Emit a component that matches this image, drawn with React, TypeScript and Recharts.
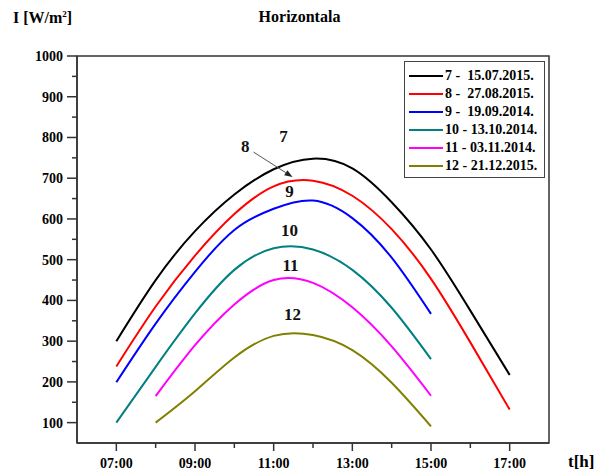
import {
  LineChart,
  Line,
  XAxis,
  YAxis,
  Legend,
  ReferenceArea,
  ReferenceDot,
  ReferenceLine,
} from 'recharts'

const FONT = '"Liberation Serif", "Times New Roman", serif'

// hours of the day
const hours = [7, 8, 9, 10, 11, 12, 13, 14, 15, 16, 17]

// irradiance on horizontal surface, W/m2 (null = not measured)
const jul15 = [300, 450, 570, 660, 722, 748, 724, 641, 525, 375, 217]
const aug27 = [238, 385, 510, 612, 680, 694, 657, 575, 453, 297, 132]
const sep19 = [199, 343, 470, 573, 625, 645, 602, 505, 367, null, null]
const oct13 = [100, 237, 368, 475, 528, 525, 475, 382, 256, null, null]
const nov03 = [null, 165, 290, 390, 450, 443, 383, 287, 166, null, null]
const dec21 = [null, 100, 177, 260, 313, 315, 278, 198, 91, null, null]

const seriesKeys = ['d7', 'd8', 'd9', 'd10', 'd11', 'd12']
const seriesNames = [
  '7 -  15.07.2015.',
  '8 -  27.08.2015.',
  '9 -  19.09.2014.',
  '10 - 13.10.2014.',
  '11 - 03.11.2014.',
  '12 - 21.12.2015.',
]
const seriesColors = ['#000000', '#ff0000', '#0000ff', '#008080', '#ff00ff', '#808000']

const xTicks = [7, 8, 9, 10, 11, 12, 13, 14, 15, 16, 17]
const yTicks = [
  100, 150, 200, 250, 300, 350, 400, 450, 500, 550, 600, 650, 700, 750, 800, 850, 900, 950, 1000,
]

// curve number labels placed in data coordinates
const curveLabels = ['7', '8', '9', '10', '11', '12']
const curveLabelHours = [11.25, 10.28, 11.4, 11.4, 11.43, 11.48]
const curveLabelValues = [803, 779, 668, 573, 487, 367]

const rows = [jul15, aug27, sep19, oct13, nov03, dec21]
const data = hours.map((h, i) => {
  const row: { [key: string]: number | null } = { h }
  seriesKeys.forEach((k, j) => {
    row[k] = rows[j][i]
  })
  return row
})

const pad = (h: number) => (h < 10 ? '0' + h : '' + h) + ':00'

function XTick(props: any) {
  const { x, y, payload } = props
  const major = payload.value % 2 === 1
  return (
    <g>
      <line x1={x} x2={x} y1={y} y2={y + (major ? 8 : 5)} stroke="#333" strokeWidth={1.5} />
      {major && (
        <text x={x} y={y + 25} textAnchor="middle" fontFamily={FONT} fontWeight="bold" fontSize={14} fill="#000">
          {pad(payload.value)}
        </text>
      )}
    </g>
  )
}

function YTick(props: any) {
  const { x, y, payload } = props
  const major = payload.value % 100 === 0
  return (
    <g>
      <line x1={x - (major ? 10 : 5)} x2={x} y1={y} y2={y} stroke="#333" strokeWidth={1.5} />
      {major && (
        <text x={x - 14} y={y} dy={5} textAnchor="end" fontFamily={FONT} fontWeight="bold" fontSize={14} fill="#000">
          {payload.value}
        </text>
      )}
    </g>
  )
}

function LegendBox() {
  return (
    <div
      style={{
        border: '1px solid #444',
        padding: '5px 0 2px 4px',
        background: '#fff',
        fontFamily: FONT,
        fontWeight: 'bold',
        fontSize: 14,
        lineHeight: '18px',
      }}
    >
      {seriesNames.map((name, i) => (
        <div key={name} style={{ display: 'flex', alignItems: 'center', whiteSpace: 'pre' }}>
          <span style={{ display: 'inline-block', width: 34, height: 2, background: seriesColors[i], marginRight: 2 }} />
          {name}
        </div>
      ))}
    </div>
  )
}

function Arrow(props: any) {
  const { x1, y1, x2, y2 } = props
  const a = Math.atan2(y2 - y1, x2 - x1)
  const len = 8
  const w = 3
  const bx = x2 - len * Math.cos(a)
  const by = y2 - len * Math.sin(a)
  const p1 = `${bx - w * Math.sin(a)},${by + w * Math.cos(a)}`
  const p2 = `${bx + w * Math.sin(a)},${by - w * Math.cos(a)}`
  return (
    <g>
      <line x1={x1} y1={y1} x2={bx} y2={by} stroke="#555" strokeWidth={1} />
      <polygon points={`${x2},${y2} ${p1} ${p2}`} fill="#222" />
    </g>
  )
}

export default function App() {
  return (
    <div style={{ position: 'absolute', left: 0, top: 0, width: 603, height: 471, background: '#fff' }}>
      <div
        style={{
          position: 'absolute',
          left: 0,
          width: 603,
          top: 8,
          textAlign: 'center',
          fontFamily: FONT,
          fontWeight: 'bold',
          fontSize: 16,
        }}
      >
        <span style={{ position: 'relative', left: -2 }}>Horizontala</span>
      </div>
      <div
        style={{
          position: 'absolute',
          left: 13,
          top: 9,
          fontFamily: FONT,
          fontWeight: 'bold',
          fontSize: 16,
        }}
      >
        I [W/m<sup style={{ fontSize: 9 }}>2</sup>]
      </div>
      <div
        style={{
          position: 'absolute',
          left: 568,
          top: 452,
          fontFamily: FONT,
          fontWeight: 'bold',
          fontSize: 17,
        }}
      >
        t[h]
      </div>
      <LineChart width={603} height={471} data={data} margin={{ top: 56, right: 54, bottom: 0, left: 0 }}>
        <XAxis
          dataKey="h"
          type="number"
          domain={[6, 18]}
          ticks={xTicks}
          interval={0}
          tickSize={0}
          tickMargin={0}
          tickLine={false}
          tick={XTick}
          height={28}
          axisLine={{ stroke: '#333', strokeWidth: 1.5 }}
          allowDataOverflow
        />
        <YAxis
          type="number"
          domain={[50, 1000]}
          ticks={yTicks}
          interval={0}
          tickSize={0}
          tickMargin={0}
          tickLine={false}
          tick={YTick}
          width={77}
          axisLine={{ stroke: '#333', strokeWidth: 1.5 }}
          allowDataOverflow
        />
        <ReferenceArea x1={6} x2={18} y1={50} y2={1000} fill="none" stroke="#333" strokeWidth={1.5} />
        {seriesKeys.map((k, i) => (
          <Line
            key={k}
            dataKey={k}
            name={seriesNames[i]}
            type="natural"
            stroke={seriesColors[i]}
            strokeWidth={2}
            dot={false}
            isAnimationActive={false}
          />
        ))}
        {curveLabels.map((t, i) => (
          <ReferenceDot
            key={t}
            x={curveLabelHours[i]}
            y={curveLabelValues[i]}
            r={0}
            shape={(p: any) => (
              <text
                x={p.cx}
                y={p.cy}
                dy={6}
                textAnchor="middle"
                fontFamily={FONT}
                fontWeight="bold"
                fontSize={17}
                fill="#111"
              >
                {t}
              </text>
            )}
          />
        ))}
        <ReferenceLine
          segment={[
            { x: 10.49, y: 764 },
            { x: 11.48, y: 703 },
          ]}
          shape={Arrow}
        />
        <Legend
          layout="vertical"
          align="center"
          verticalAlign="middle"
          wrapperStyle={{ position: 'absolute', left: 404, top: 61, width: 141 }}
          content={LegendBox}
        />
      </LineChart>
    </div>
  )
}
